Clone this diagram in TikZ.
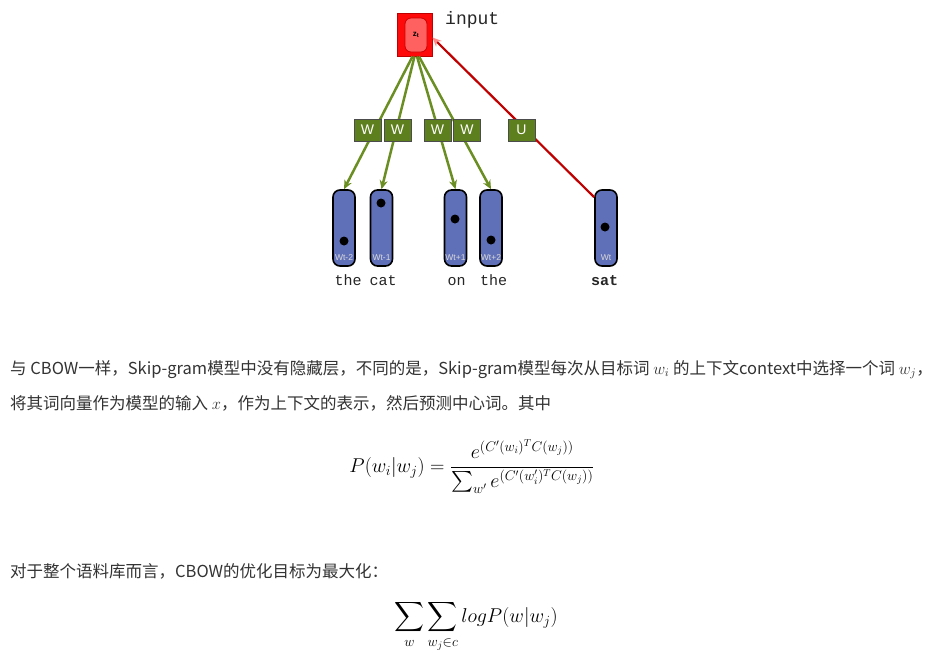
\RequirePackage{fix-cm}
\documentclass[tikz,border=0pt]{standalone}
\usepackage{amsmath}
\usepackage{fontspec}
\newfontfamily\cjk{Noto Sans CJK SC}
\newfontfamily\mono{Liberation Mono}
\newfontfamily\lsans{Liberation Sans}
\usetikzlibrary{arrows.meta}
\definecolor{txt}{HTML}{333333}
\definecolor{wgreen}{HTML}{5E7F1E}
\definecolor{lgreen}{HTML}{6B8E23}
\definecolor{barblue}{HTML}{6070B8}
\definecolor{redline}{HTML}{C00000}
\definecolor{sqred}{HTML}{FF0A0A}
\definecolor{innerred}{HTML}{FF6060}
\tikzset{
  sqbox/.style={draw=red!75!black, fill=sqred, line width=1pt, minimum width=35pt, minimum height=43pt, inner sep=0pt},
  innerbox/.style={draw=red!80!black, fill=innerred, line width=0.8pt, rounded corners=6pt, minimum width=22pt, minimum height=34pt, inner sep=0pt, font=\lsans\bfseries\fontsize{8}{8}\selectfont},
  wbox/.style={draw=black!70, line width=1pt, fill=wgreen, text=white, font=\lsans\fontsize{14}{14}\selectfont, minimum width=27pt, minimum height=22pt, inner sep=0pt},
  barbox/.style={draw=black, line width=1.6pt, fill=barblue, rounded corners=7pt, minimum width=22pt, minimum height=76pt, inner sep=0pt},
  blackdot/.style={circle, fill=black, minimum size=9pt, inner sep=0pt},
  barlab/.style={font=\lsans\fontsize{8.5}{9}\selectfont, text=white!85!black, inner sep=0pt},
  word/.style={font=\mono\fontsize{15}{15}\selectfont, text=black!85, inner sep=0pt, anchor=base},
  garrow/.style={draw=lgreen, line width=2.5pt, -{Stealth[length=9pt,width=8pt]}},
  rarrow/.style={draw=redline, line width=2.2pt, -{Stealth[length=9pt,width=8pt,color=red!45]}},
  para/.style={font=\cjk\fontsize{16.5}{20}\selectfont, text=txt, inner sep=0pt, anchor=base west},
  eqn/.style={font=\fontsize{20}{24}\selectfont, text=black, inner sep=0pt, anchor=base}
}
\begin{document}
\begin{tikzpicture}[x=1pt,y=-1pt]
\useasboundingbox (0,0) rectangle (937,654);
\fill[white] (0,0) rectangle (937,654);
% input unit
\node[sqbox] (sq) at (414.5,34.5) {};
\node[innerbox] (zin) at (416,35) {z\textsubscript{t}};
\node[font=\mono\fontsize{18}{18}\selectfont, anchor=west, inner sep=0pt, text=black!85] (inp) at (445,20) {input};
% word bars
\node[barbox] (b1) at (344,228) {};
\node[barbox] (b2) at (381.5,228) {};
\node[barbox] (b3) at (455.5,228) {};
\node[barbox] (b4) at (491,228) {};
\node[barbox] (b5) at (606,228) {};
\node[blackdot] (d1) at (344,241) {};
\node[blackdot] (d2) at (381,203) {};
\node[blackdot] (d3) at (455,219) {};
\node[blackdot] (d4) at (491,240) {};
\node[blackdot] (d5) at (605,227) {};
\node[barlab] (l1) at (344,258) {Wt-2};
\node[barlab] (l2) at (381.5,258) {Wt-1};
\node[barlab] (l3) at (455.5,258) {Wt+1};
\node[barlab] (l4) at (491,258) {Wt+2};
\node[barlab] (l5) at (606,258) {Wt};
% connectors
\draw[garrow] ([xshift=-2pt]sq.south) -- (b1.north);
\draw[garrow] ([xshift=0pt]sq.south) -- (b2.north);
\draw[garrow] ([xshift=2.5pt]sq.south) -- (b3.north);
\draw[garrow] ([xshift=4.5pt]sq.south) -- (b4.north);
\draw[rarrow] ([yshift=-8pt]b5.north west) -- ([yshift=-3pt]sq.east);
% weight boxes
\node[wbox] (w1) at (367.5,130) {W};
\node[wbox] (w2) at (397.5,130) {W};
\node[wbox] (w3) at (437.5,130) {W};
\node[wbox] (w4) at (467,130) {W};
\node[wbox] (u) at (521.5,130) {U};
% words
\node[word] (t1) at (348,285) {the};
\node[word] (t2) at (383,285) {cat};
\node[word] (t3) at (456.5,285) {on};
\node[word] (t4) at (493.5,285) {the};
\node[word, font=\mono\bfseries\fontsize{15}{15}\selectfont] (t5) at (604.5,285) {sat};
% text
\node[para] (p1) at (10,374) {与 CBOW一样，Skip-gram模型中没有隐藏层，不同的是，Skip-gram模型每次从目标词 $w_i$ 的上下文context中选择一个词 $w_j$，};
\node[para] (p2) at (10,409) {将其词向量作为模型的输入 $x$，作为上下文的表示，然后预测中心词。其中};
\node[eqn] (eq1) at (472,472) {$\displaystyle P(w_i|w_j)=\frac{e^{(C'(w_i)^TC(w_j))}}{\sum_{w'}e^{(C'(w_i')^TC(w_j))}}$};
\node[para] (p3) at (10,577) {对于整个语料库而言，CBOW的优化目标为最大化：};
\node[eqn] (eq2) at (476,622) {$\displaystyle \sum_w\sum_{w_j\in c}logP(w|w_j)$};
\end{tikzpicture}
\end{document}
